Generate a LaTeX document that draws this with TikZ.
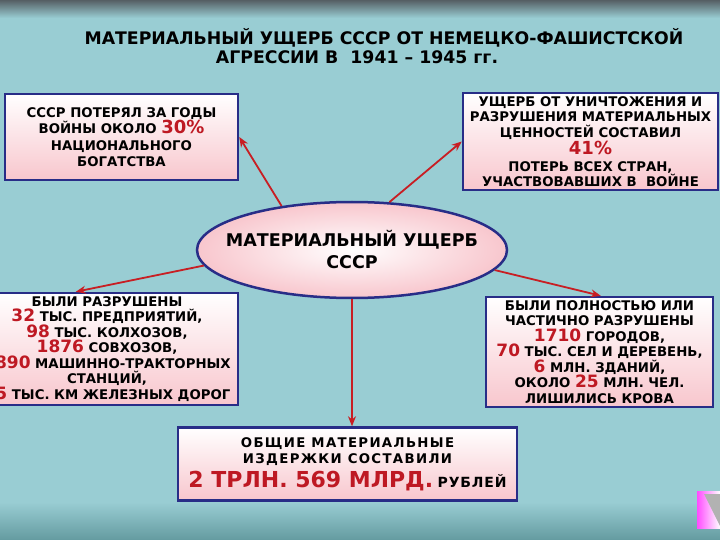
\documentclass[tikz,border=0pt]{standalone}
\usepackage{fontspec}
\setmainfont{DejaVu Sans}
\usetikzlibrary{shapes.geometric, arrows.meta, calc}
\definecolor{bgcol}{RGB}{153,205,211}
\definecolor{bgdark}{RGB}{100,155,160}
\definecolor{topcol}{RGB}{85,95,100}
\definecolor{framecol}{RGB}{40,45,135}
\definecolor{numcol}{RGB}{190,25,35}
\definecolor{arrowcol}{RGB}{200,30,35}
\definecolor{pinkcol}{RGB}{248,198,205}
\newcommand{\redval}[2][17]{{\color{numcol}\fontsize{#1}{15}\selectfont #2}}

\begin{document}
\begin{tikzpicture}[
			x=1pt,
			y=-1pt,
			infobox/.style={
				draw=framecol,
				rectangle,
				line width=2.5pt,
				top color=white,
				bottom color=pinkcol,
				align=center,
				inner sep=0pt,
				font=\bfseries\fontsize{13.3}{15.5}\selectfont
			},
			hub/.style={
				draw=framecol,
				ellipse,
				line width=2.5pt,
				inner color=white,
				outer color=pinkcol,
				align=center,
				inner xsep=-18pt,
				inner ysep=0pt,
				minimum width=310pt,
				minimum height=96pt,
				font=\bfseries\fontsize{17.5}{22}\selectfont
			},
			headline/.style={
				font=\bfseries\fontsize{17.3}{20}\selectfont,
				inner sep=0pt
			},
			link/.style={
				draw=arrowcol,
				line width=1.8pt,
				-{Stealth[length=10pt,width=8pt]}
			}
			]
			% Background
			\useasboundingbox (0,0) rectangle (720,540);
			\clip (0,0) rectangle (720,540);
			\fill[bgcol] (0,0) rectangle (720,540);
			\shade[top color=topcol, bottom color=bgcol] (0,0) rectangle (720,18);
			\shade[top color=bgcol, bottom color=bgdark] (0,502) rectangle (720,540);
			
			% Title
			\node[headline] (title1) at (384,38) {МАТЕРИАЛЬНЫЙ УЩЕРБ СССР ОТ НЕМЕЦКО-ФАШИСТСКОЙ};
			\node[headline] (title2) at (357,57) {АГРЕССИИ В\ \ 1941 – 1945 гг.};
			
			% Boxes
			\node[infobox, minimum width=233pt, minimum height=86pt,
				font=\bfseries\fontsize{13.3}{16.5}\selectfont] (wealth) at (121.5,137)
				{СССР ПОТЕРЯЛ ЗА ГОДЫ\\ ВОЙНЫ ОКОЛО \redval[18]{30\%}\\ НАЦИОНАЛЬНОГО\\ БОГАТСТВА};
			\node[infobox, minimum width=255pt, minimum height=97pt] (share) at (590.5,141.5)
				{УЩЕРБ ОТ УНИЧТОЖЕНИЯ И\\ РАЗРУШЕНИЯ МАТЕРИАЛЬНЫХ\\ ЦЕННОСТЕЙ СОСТАВИЛ\\[2pt] \redval[18]{41\%}\\[1pt] ПОТЕРЬ ВСЕХ СТРАН,\\ УЧАСТВОВАВШИХ В\ \ ВОЙНЕ};
			\node[hub] (dmg) at (352,250) {МАТЕРИАЛЬНЫЙ УЩЕРБ\\ СССР};
			\node[infobox, minimum width=262pt, minimum height=112pt] (ruined) at (107,349)
				{БЫЛИ РАЗРУШЕНЫ\\ \redval{32} ТЫС. ПРЕДПРИЯТИЙ,\\ \redval{98} ТЫС. КОЛХОЗОВ,\\ \redval{1876} СОВХОЗОВ,\\ \redval{2890} МАШИННО-ТРАКТОРНЫХ\\ СТАНЦИЙ,\\ \redval{65} ТЫС. КМ ЖЕЛЕЗНЫХ ДОРОГ};
			\node[infobox, minimum width=227pt, minimum height=110pt] (towns) at (599.5,352)
				{БЫЛИ ПОЛНОСТЬЮ ИЛИ\\ ЧАСТИЧНО РАЗРУШЕНЫ\\ \redval{1710} ГОРОДОВ,\\ \redval{70} ТЫС. СЕЛ И ДЕРЕВЕНЬ,\\ \redval{6} МЛН. ЗДАНИЙ,\\ ОКОЛО \redval{25} МЛН. ЧЕЛ.\\ ЛИШИЛИСЬ КРОВА};
			\node[infobox, minimum width=339pt, minimum height=73pt] (total) at (347.5,464)
				{\addfontfeature{LetterSpace=10}ОБЩИЕ МАТЕРИАЛЬНЫЕ\\[1pt] \addfontfeature{LetterSpace=10}ИЗДЕРЖКИ СОСТАВИЛИ\\[4pt] \redval[22]{2 ТРЛН. 569 МЛРД.} {\fontsize{14}{15}\selectfont\addfontfeature{LetterSpace=6}РУБЛЕЙ}};
			
			% Arrows
			\draw[link] (dmg.148) -- (wealth.east);
			\draw[link] (dmg.52) -- (share.west);
			\draw[link] (dmg.186) -- ([xshift=101pt]ruined.north west);
			\draw[link] (dmg.-8) -- ([xshift=116pt]towns.north west);
			\draw[link] (dmg.south) -- (dmg.south |- total.north);
			
			% Corner sign
			\shade[left color=magenta!70, right color=white] (697,491) rectangle (720,528);
			\fill[gray!60] (704,494) -- (720,494) -- (720,526) -- cycle;
		\end{tikzpicture}
\end{document}
